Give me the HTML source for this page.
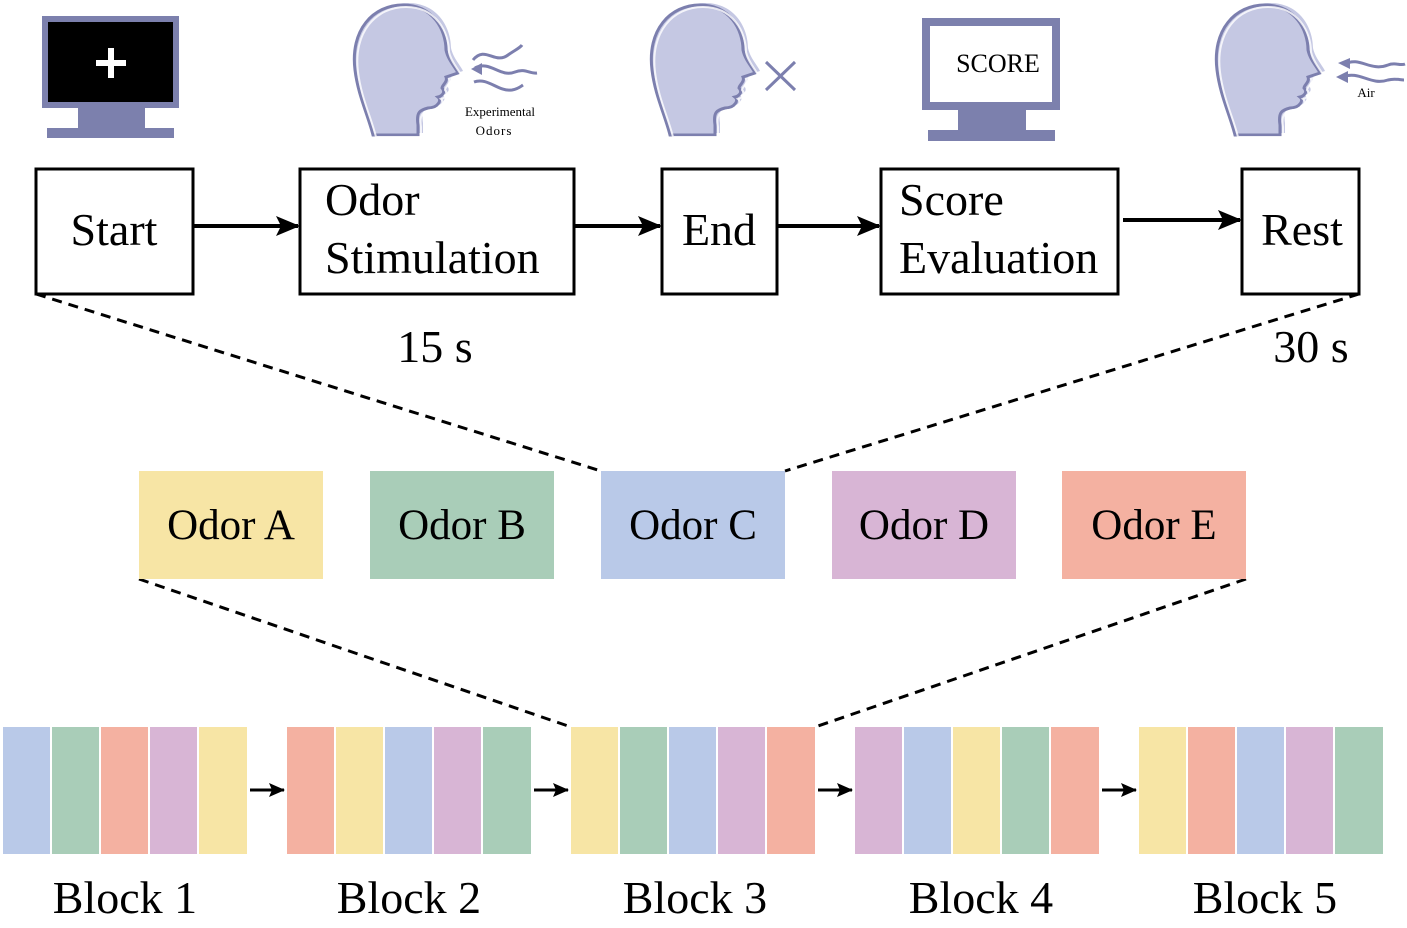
<!DOCTYPE html>
<html><head><style>body{margin:0;background:#fff}svg{display:block}</style></head><body>
<svg width="1407" height="928" viewBox="0 0 1407 928" xmlns="http://www.w3.org/2000/svg" font-family="Liberation Serif, serif">
<defs>
<marker id="ah" markerWidth="24" markerHeight="24" refX="22" refY="12" orient="auto" markerUnits="userSpaceOnUse"><path d="M0,2 L24,12 L0,22 L5,12 Z" fill="#000"/></marker>
<marker id="ah2" markerWidth="16" markerHeight="16" refX="15" refY="8" orient="auto" markerUnits="userSpaceOnUse"><path d="M0,1 L16,8 L0,15 L3,8 Z" fill="#000"/></marker>
<path id="hp" d="M25,135 C20,115 10,95 7,70 C2,30 25,5 55,5 C85,5 98,30 98,50 C100,60 108,68 110,73 L98,77 C100,82 94,85 94,88 C98,92 94,96 90,97 C94,100 90,108 80,108 C72,110 68,112 70,125 L70,135 Z"/>
<g id="head">
<use href="#hp" fill="#c5c8e3" transform="translate(5,-2)"/>
<use href="#hp" fill="#c5c8e3" stroke="#7c7fae" stroke-width="3"/>
<use href="#hp" fill="none" stroke="#fff" stroke-width="2" transform="translate(3,2)" opacity="0.8"/>
</g>
</defs>
<rect x="42" y="16" width="137" height="92" fill="#7c80ad"/>
<rect x="48" y="22" width="125" height="80" fill="#000"/>
<rect x="96" y="60" width="30" height="6" fill="#fff"/><rect x="108" y="48" width="6" height="30" fill="#fff"/>
<rect x="78" y="108" width="67" height="21" fill="#7c80ad"/><rect x="47" y="128" width="127" height="10" fill="#7c80ad"/>
<use href="#head" x="348" y="0"/>
<use href="#head" x="645" y="0"/>
<use href="#head" x="1210" y="0"/>
<g stroke="#7c7fae" stroke-width="3" fill="none">
<path d="M473,60 C485,45 495,65 508,55 C515,50 520,48 522,45"/>
<path d="M475,68 C490,60 500,78 515,72 C525,68 530,74 537,73"/>
<path d="M474,82 C488,77 498,92 512,90 C518,89 520,87 523,85"/>
<path d="M766,62 L795,90 M795,62 L766,90"/>
<path d="M1345,64 C1360,56 1370,72 1388,65 C1395,62 1400,66 1405,64"/>
<path d="M1342,77 C1360,70 1370,86 1388,80 C1395,78 1400,80 1404,80"/>
</g>
<path d="M471,69 L482,63 L482,75 Z" fill="#7c7fae"/>
<path d="M1338,63 L1350,58 L1350,69 Z" fill="#7c7fae"/>
<path d="M1336,77 L1348,71 L1348,83 Z" fill="#7c7fae"/>
<text x="500" y="116" font-size="13" text-anchor="middle">Experimental</text>
<text x="494" y="135" font-size="13" text-anchor="middle" letter-spacing="1">Odors</text>
<text x="1366" y="97" font-size="13" text-anchor="middle">Air</text>
<rect x="922" y="18" width="138" height="92" fill="#7c80ad"/>
<rect x="930" y="26" width="122" height="76" fill="#fff"/>
<text x="998" y="72" font-size="26" text-anchor="middle">SCORE</text>
<rect x="958" y="110" width="68" height="21" fill="#7c80ad"/><rect x="928" y="130" width="127" height="11" fill="#7c80ad"/>
<g fill="#fff" stroke="#000" stroke-width="3">
<rect x="36" y="169" width="157" height="125"/>
<rect x="300" y="169" width="274" height="125"/>
<rect x="662" y="169" width="115" height="125"/>
<rect x="881" y="169" width="237" height="125"/>
<rect x="1242" y="169" width="117" height="125"/>
</g>
<g font-size="46">
<text x="114" y="245" text-anchor="middle">Start</text>
<text x="325" y="215">Odor</text>
<text x="325" y="273">Stimulation</text>
<text x="719" y="245" text-anchor="middle">End</text>
<text x="899" y="215">Score</text>
<text x="899" y="273">Evaluation</text>
<text x="1302" y="245" text-anchor="middle">Rest</text>
<text x="435" y="362" text-anchor="middle">15 s</text>
<text x="1311" y="362" text-anchor="middle">30 s</text>
</g>
<g stroke="#000" stroke-width="4" marker-end="url(#ah)">
<line x1="194" y1="226" x2="298" y2="226"/>
<line x1="575" y1="226" x2="660" y2="226"/>
<line x1="778" y1="226" x2="879" y2="226"/>
<line x1="1123" y1="220" x2="1240" y2="220"/>
</g>
<g stroke="#000" stroke-width="3" stroke-dasharray="10,7">
<line x1="36" y1="294" x2="601" y2="471"/>
<line x1="1359" y1="294" x2="785" y2="471"/>
<line x1="139" y1="579" x2="571" y2="727"/>
<line x1="1246" y1="579" x2="815" y2="727"/>
</g>
<rect x="139" y="471" width="184" height="108" fill="#f7e5a5"/>
<rect x="370" y="471" width="184" height="108" fill="#a9cdb8"/>
<rect x="601" y="471" width="184" height="108" fill="#b9c9e8"/>
<rect x="832" y="471" width="184" height="108" fill="#d8b5d5"/>
<rect x="1062" y="471" width="184" height="108" fill="#f4b1a1"/>
<g font-size="43" text-anchor="middle">
<text x="231" y="539">Odor A</text>
<text x="462" y="539">Odor B</text>
<text x="693" y="539">Odor C</text>
<text x="924" y="539">Odor D</text>
<text x="1154" y="539">Odor E</text>
</g>
<g>
<rect x="3" y="727" width="47" height="127" fill="#b9c9e8"/><rect x="52" y="727" width="47" height="127" fill="#a9cdb8"/><rect x="101" y="727" width="47" height="127" fill="#f4b1a1"/><rect x="150" y="727" width="47" height="127" fill="#d8b5d5"/><rect x="199" y="727" width="48" height="127" fill="#f7e5a5"/>
<rect x="287" y="727" width="47" height="127" fill="#f4b1a1"/><rect x="336" y="727" width="47" height="127" fill="#f7e5a5"/><rect x="385" y="727" width="47" height="127" fill="#b9c9e8"/><rect x="434" y="727" width="47" height="127" fill="#d8b5d5"/><rect x="483" y="727" width="48" height="127" fill="#a9cdb8"/>
<rect x="571" y="727" width="47" height="127" fill="#f7e5a5"/><rect x="620" y="727" width="47" height="127" fill="#a9cdb8"/><rect x="669" y="727" width="47" height="127" fill="#b9c9e8"/><rect x="718" y="727" width="47" height="127" fill="#d8b5d5"/><rect x="767" y="727" width="48" height="127" fill="#f4b1a1"/>
<rect x="855" y="727" width="47" height="127" fill="#d8b5d5"/><rect x="904" y="727" width="47" height="127" fill="#b9c9e8"/><rect x="953" y="727" width="47" height="127" fill="#f7e5a5"/><rect x="1002" y="727" width="47" height="127" fill="#a9cdb8"/><rect x="1051" y="727" width="48" height="127" fill="#f4b1a1"/>
<rect x="1139" y="727" width="47" height="127" fill="#f7e5a5"/><rect x="1188" y="727" width="47" height="127" fill="#f4b1a1"/><rect x="1237" y="727" width="47" height="127" fill="#b9c9e8"/><rect x="1286" y="727" width="47" height="127" fill="#d8b5d5"/><rect x="1335" y="727" width="48" height="127" fill="#a9cdb8"/>
</g>
<g stroke="#000" stroke-width="3" marker-end="url(#ah2)">
<line x1="250" y1="790" x2="284" y2="790"/>
<line x1="534" y1="790" x2="568" y2="790"/>
<line x1="818" y1="790" x2="852" y2="790"/>
<line x1="1102" y1="790" x2="1136" y2="790"/>
</g>
<g font-size="46" text-anchor="middle">
<text x="125" y="913">Block 1</text>
<text x="409" y="913">Block 2</text>
<text x="695" y="913">Block 3</text>
<text x="981" y="913">Block 4</text>
<text x="1265" y="913">Block 5</text>
</g>
</svg>
</body></html>
